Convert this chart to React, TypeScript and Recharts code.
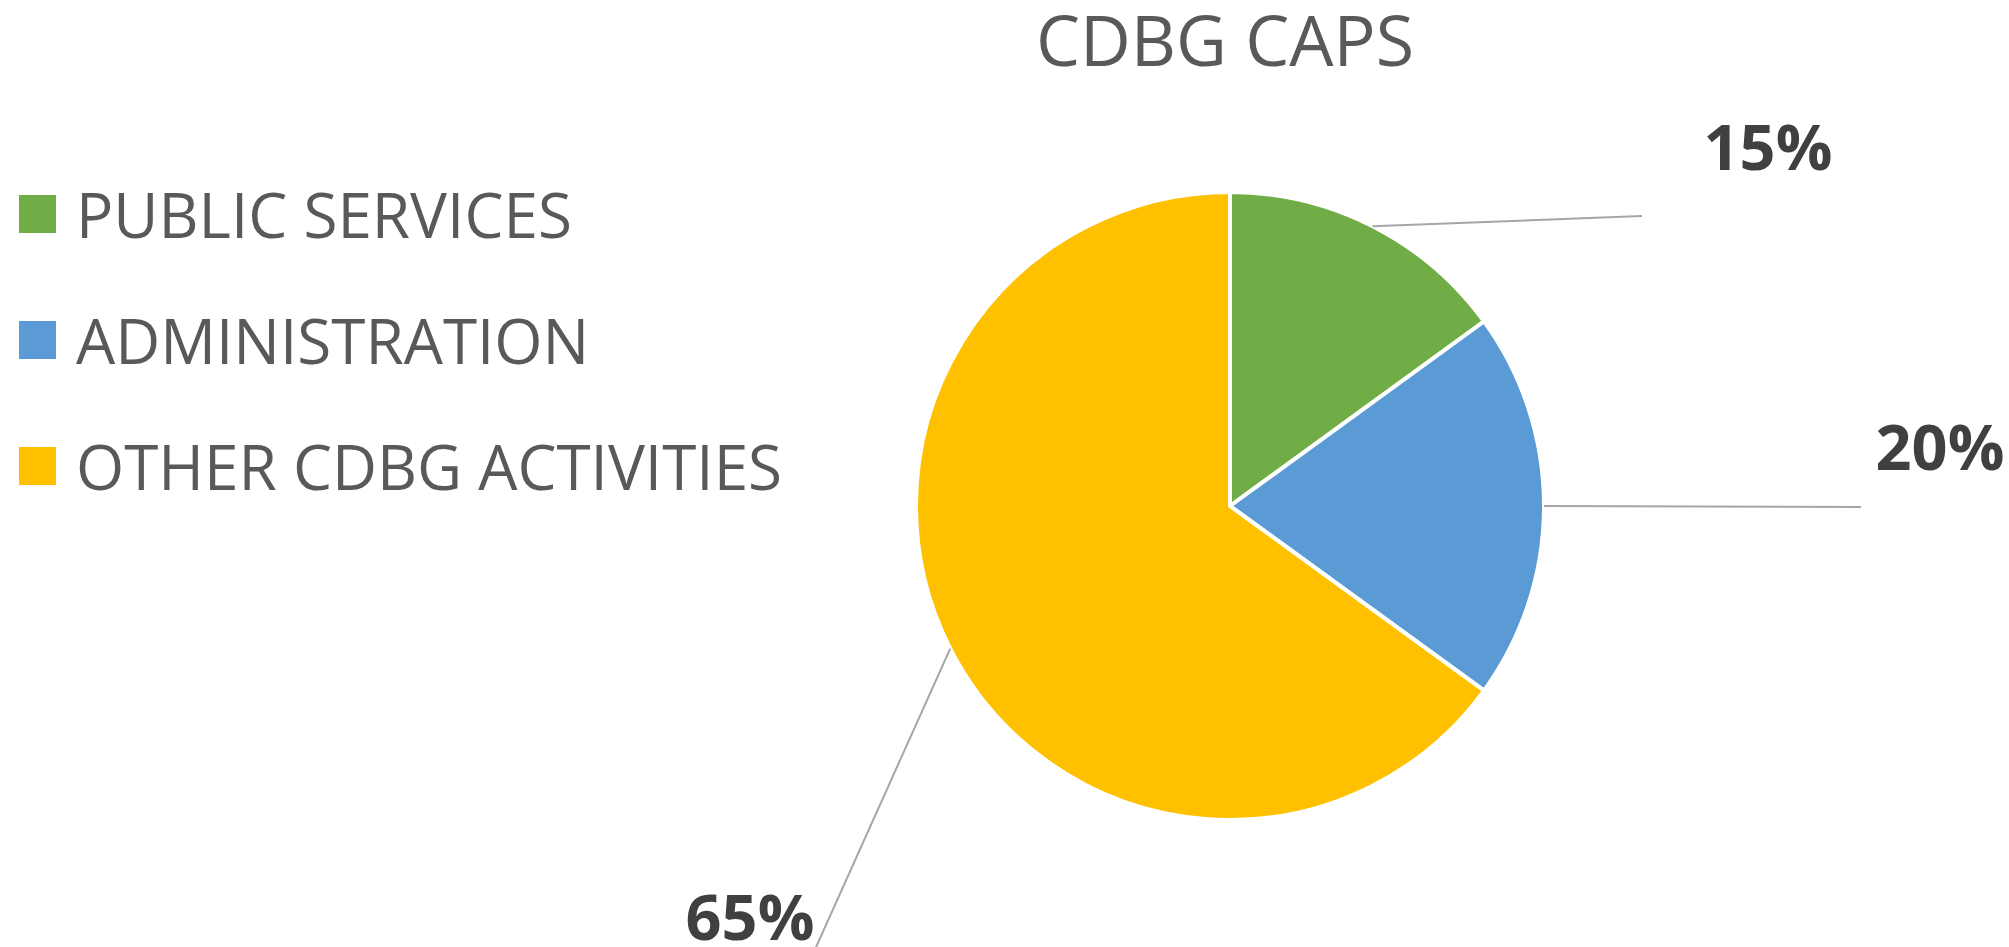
import React from 'react';
import { PieChart, Pie, Cell, Legend } from 'recharts';

const categories = ['PUBLIC SERVICES', 'ADMINISTRATION', 'OTHER CDBG ACTIVITIES'];
const shares = [15, 20, 65];
const sliceColors = ['#70AD47', '#5B9BD5', '#FFC000'];
const chartTitle = 'CDBG CAPS';

// Label placement relative to the pie centre (leader-line end, text baseline centre)
const labelLayout = [
  { lineEnd: [412, -290], text: [538, -336] },
  { lineEnd: [631, 1], text: [710, -36] },
  { lineEnd: [-422, 459], text: [-480, 434] },
];

const data = categories.map((name, i) => ({ name, value: shares[i] }));
const RAD = Math.PI / 180;
const FONT = "'Open Sans', 'Noto Sans', sans-serif";

const renderLabel = (props: any) => {
  const { cx, cy, midAngle, outerRadius, index, value } = props;
  const sx = cx + outerRadius * Math.cos(-midAngle * RAD);
  const sy = cy + outerRadius * Math.sin(-midAngle * RAD);
  const L = labelLayout[index];
  return (
    <g>
      <path
        d={`M${sx},${sy}L${cx + L.lineEnd[0]},${cy + L.lineEnd[1]}`}
        stroke="#A6A6A6"
        strokeWidth={2}
        fill="none"
      />
      <text
        x={cx + L.text[0]}
        y={cy + L.text[1]}
        textAnchor="middle"
        fill="#404040"
        fontFamily={FONT}
        fontWeight={700}
        fontSize={63}
      >
        {`${value}%`}
      </text>
    </g>
  );
};

const renderLegend = (props: any) => {
  const raw = props.payload && props.payload.length ? props.payload : categories.map((c, i) => ({ value: c, color: sliceColors[i] }));
  const payload = [...raw].sort((a: any, b: any) => categories.indexOf(a.value) - categories.indexOf(b.value));
  return (
    <div style={{ display: 'flex', flexDirection: 'column' }}>
      {payload.map((entry: any, i: number) => (
        <div key={i} style={{ height: 126, display: 'flex', alignItems: 'center' }}>
          <div style={{ width: 37, height: 38, background: entry.color, marginRight: 20, flexShrink: 0 }} />
          <span style={{ fontFamily: FONT, fontSize: 62, color: '#595959', whiteSpace: 'nowrap' }}>{entry.value}</span>
        </div>
      ))}
    </div>
  );
};

export default function App() {
  return (
    <div style={{ position: 'absolute', left: 0, top: 0, width: 2009, height: 947, background: '#fff' }}>
      <PieChart width={2009} height={947}>
        <text x={1225} y={66} textAnchor="middle" fill="#595959" fontFamily={FONT} fontSize={70}>
          {chartTitle}
        </text>
        <Pie
          data={data}
          dataKey="value"
          nameKey="name"
          cx={1225}
          cy={501}
          outerRadius={314}
          startAngle={90}
          endAngle={-270}
          stroke="#FFFFFF"
          strokeWidth={4}
          labelLine={false}
          label={renderLabel}
          isAnimationActive={false}
        >
          {data.map((d, i) => (
            <Cell key={d.name} fill={sliceColors[i]} />
          ))}
        </Pie>
        <Legend
          content={renderLegend}
          wrapperStyle={{ position: 'absolute', left: 19, top: 151, width: 'auto', height: 'auto' }}
        />
      </PieChart>
    </div>
  );
}
